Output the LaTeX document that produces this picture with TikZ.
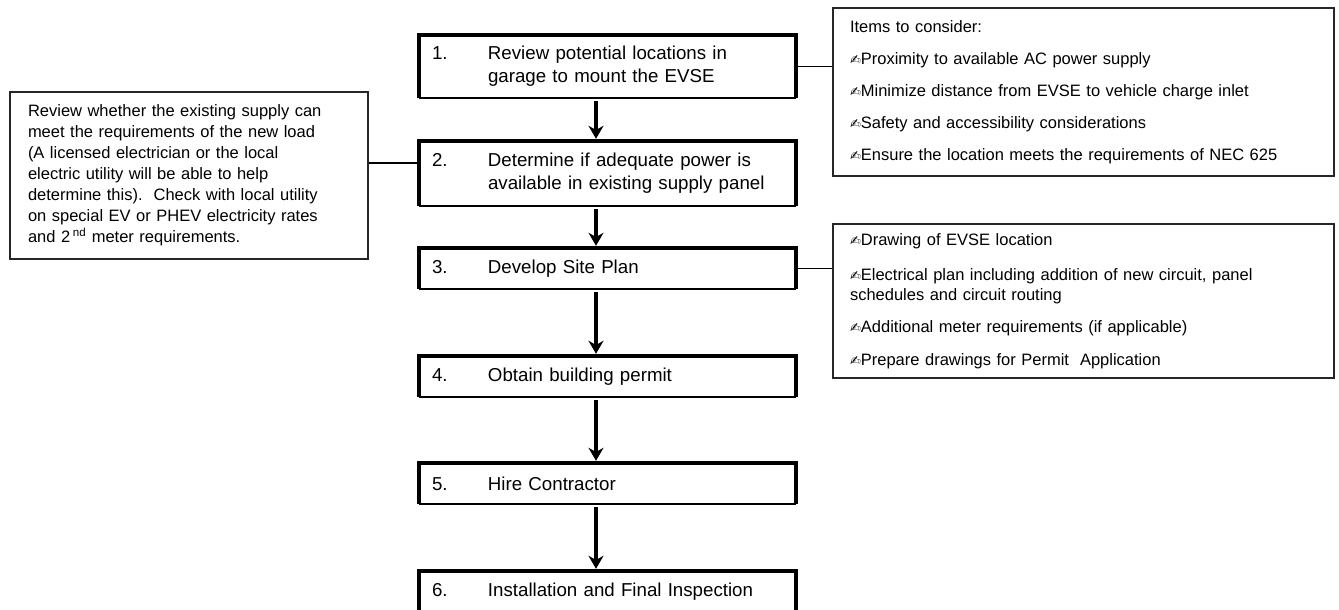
\documentclass[tikz,border=0pt]{standalone}
\usepackage{fontspec}
\setmainfont{Liberation Sans}
\newfontfamily\pensym{DejaVu Sans}
\usetikzlibrary{arrows.meta,calc}

\newcommand{\itm}{{\pensym\fontsize{13}{13}\selectfont ✍}}

\begin{document}
\begin{tikzpicture}[x=1pt, y=-1pt,
  stepbox/.style={rectangle, minimum width=377pt, inner xsep=13pt, inner ysep=0pt, text width=351pt, align=left, font=\fontsize{18.7}{23}\selectfont},
  notebox/.style={draw=black!85, line width=1.8pt, rectangle, inner ysep=0pt, align=left, font=\fontsize{16.5}{20}\selectfont},
  flow/.style={line width=4pt, -{Stealth[length=13pt,width=15pt]}, shorten <=3pt, shorten >=2pt},
  link/.style={line width=1.5pt}]
  \useasboundingbox (0,0) rectangle (1339,610);

  % steps
  \node [stepbox, minimum height=63pt] (s1) at (607.5,66.5) {\makebox[56pt][l]{1.}Review potential locations in\\\hspace*{56pt}garage to mount the EVSE};
  \node [stepbox, minimum height=65pt] (s2) at (607.5,173.5) {\makebox[56pt][l]{2.}Determine if adequate power is\\\hspace*{56pt}available in existing supply panel};
  \node [stepbox, minimum height=41pt] (s3) at (607.5,268.5) {\makebox[56pt][l]{3.}Develop Site Plan};
  \node [stepbox, minimum height=41pt] (s4) at (607.5,376.5) {\makebox[56pt][l]{4.}Obtain building permit};
  \node [stepbox, minimum height=41pt] (s5) at (607.5,483.5) {\makebox[56pt][l]{5.}Hire Contractor};
  \node [stepbox, minimum height=41pt] (s6) at (607.5,591.5) {\makebox[56pt][l]{6.}Installation and Final Inspection};
  \foreach \st in {s1,s2,s3,s4,s5,s6} {
    \draw [line width=4.5pt] (\st.south west) -- (\st.north west) -- (\st.north east) -- (\st.south east);
    \draw [line width=1.5pt] (\st.south west) -- (\st.south east);
  }
  \foreach \a/\b in {s1/s2,s2/s3,s3/s4,s4/s5,s5/s6}
    \draw [flow] ($(\a.south)+(-11.5,0)$) -- ($(\b.north)+(-11.5,0)$);

  % side notes
  \node [notebox, inner xsep=18pt, text width=322pt, minimum height=167pt, font=\fontsize{16.5}{21}\selectfont] (note) at (189,175.5) {Review whether the existing supply can\\
    meet the requirements of the new load\\
    (A licensed electrician or the local\\
    electric utility will be able to help\\
    determine this).\ \ Check with local utility\\
    on special EV or PHEV electricity rates\\
    and 2\,\textsuperscript{nd} meter requirements.};
  \node [notebox, inner xsep=17pt, text width=467pt, minimum height=168pt] (r1) at (1083.5,92) {Items to consider:\\[12pt]
    \itm Proximity to available AC power supply\\[12pt]
    \itm Minimize distance from EVSE to vehicle charge inlet\\[12pt]
    \itm Safety and accessibility considerations\\[12pt]
    \itm Ensure the location meets the requirements of NEC 625};
  \node [notebox, inner xsep=17pt, text width=467pt, minimum height=154pt] (r2) at (1083.5,301) {\itm Drawing of EVSE location\\[15pt]
    \itm Electrical plan including addition of new circuit, panel\\
    schedules and circuit routing\\[12pt]
    \itm Additional meter requirements (if applicable)\\[13pt]
    \itm Prepare drawings for Permit\ \ Application};

  % connectors
  \coordinate (s2in) at ($(s2.west)+(0,-10.5)$);
  \draw [link] (note.east |- s2in) -- (s2in);
  \draw [link] (s1.east) -- (s1.east -| r1.west);
  \draw [link] (s3.east) -- (s3.east -| r2.west);
\end{tikzpicture}
\end{document}
